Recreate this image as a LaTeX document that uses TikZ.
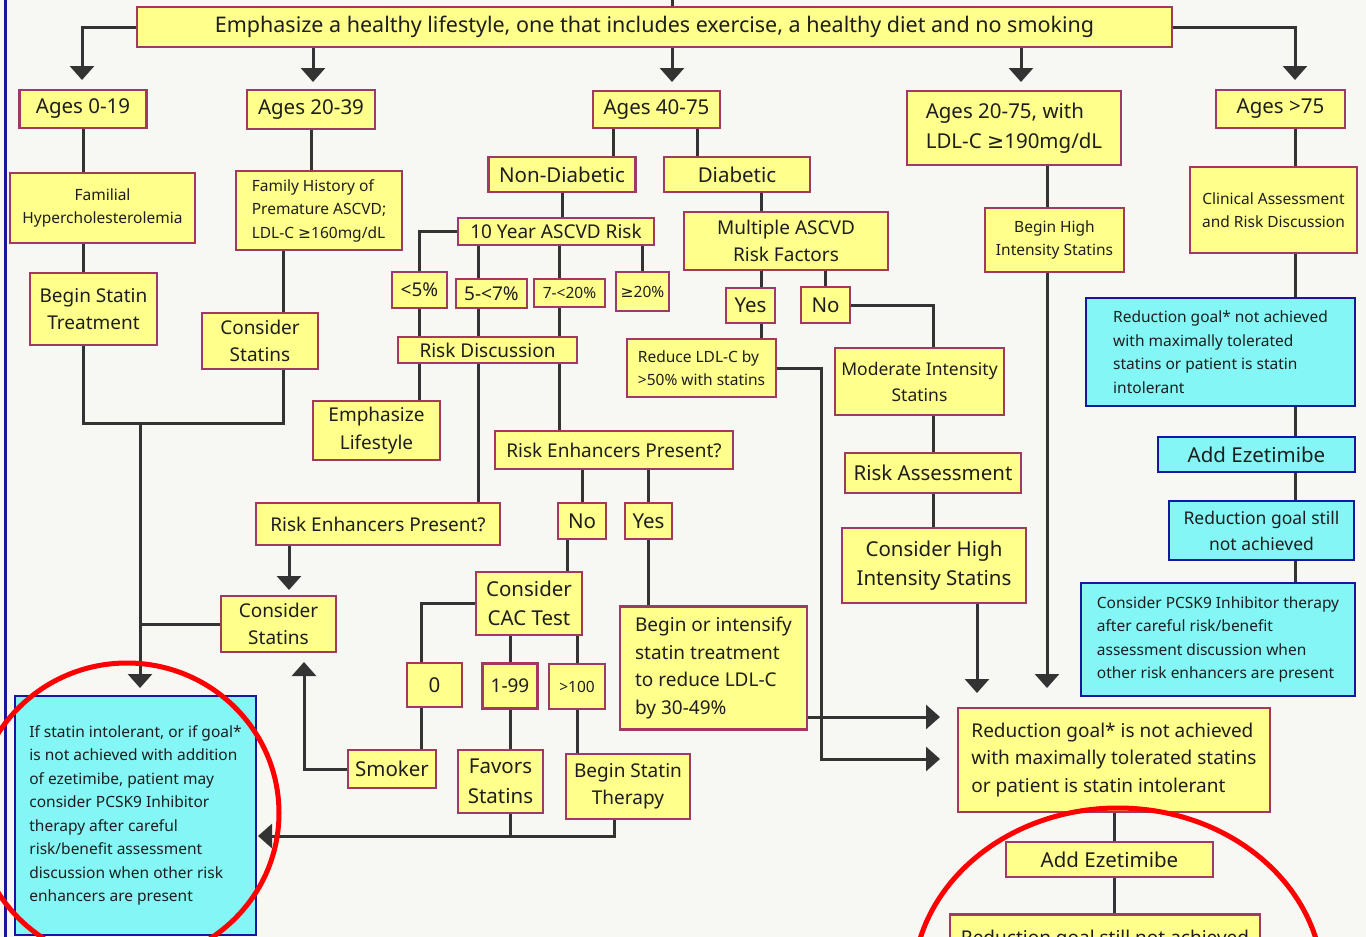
\documentclass[tikz,border=0pt]{standalone}
\usepackage{fontspec}
\setmainfont{Noto Sans}
\newfontfamily\symfont{DejaVu Sans}
\usepackage{tikz}
\usetikzlibrary{positioning, arrows.meta, calc}

\definecolor{yfill}{HTML}{FFFF8C}
\definecolor{yline}{HTML}{A03A62}
\definecolor{cfill}{HTML}{84F6F6}
\definecolor{cline}{HTML}{16169E}
\definecolor{wire}{HTML}{333333}
\definecolor{ink}{HTML}{1E1E1E}
\definecolor{paper}{HTML}{F7F7F4}

\newcommand{\gesign}{{\symfont ≥}}

\begin{document}
\begin{tikzpicture}[
            x=1pt, y=-1pt,
            step_box/.style={draw=yline, fill=yfill, line width=2.5pt, inner sep=3pt, align=center, text=ink},
            goal_box/.style={draw=cline, fill=cfill, line width=2.5pt, inner sep=3pt, align=center, text=ink},
            sz/.style 2 args={minimum width=#1pt, minimum height=#2pt},
            txt_s/.style={font=\fontsize{15.5}{23.5}\selectfont},
            txt_n/.style={font=\fontsize{17.5}{26}\selectfont},
            txt_m/.style={font=\fontsize{19}{27.5}\selectfont},
            txt_l/.style={font=\fontsize{20.5}{29.5}\selectfont},
            link/.style={draw=wire, line width=3pt},
            flow_arrow/.style={link, -{Triangle[width=24pt, length=14pt]}},
            ring/.style={draw=red, line width=5pt}
            ]

            \useasboundingbox (0,0) rectangle (1366,937);
            \clip (0,0) rectangle (1366,937);
            \fill[paper] (0,0) rectangle (1366,937);
            \draw[cline, line width=3pt] (5,0) -- (5,937);

            % Header
            \node[step_box, sz={1035}{40}, font=\fontsize{21.5}{29.5}\selectfont] (top) at (654.5,27) {Emphasize a healthy lifestyle, one that includes exercise, a healthy diet and no smoking};

            % Age groups
            \node[step_box, sz={127}{38}, txt_l] (a019) at (83,109) {Ages 0-19};
            \node[step_box, sz={128}{39}, txt_l] (a2039) at (311,109.5) {Ages 20-39};
            \node[step_box, sz={127}{37}, txt_l] (a4075) at (656.5,109.5) {Ages 40-75};
            \node[step_box, sz={214}{74}, txt_l, align=left] (a2075) at (1014,128) {Ages 20-75, with\\LDL-C \gesign190mg/dL};
            \node[step_box, sz={129}{38}, txt_l] (a75) at (1280.5,109) {Ages >75};

            % Ages 0-19 and 20-39
            \node[step_box, sz={185}{70}, txt_s] (fam) at (102.5,208) {Familial\\Hypercholesterolemia};
            \node[step_box, sz={127}{72}, txt_m] (bst) at (93.5,309) {Begin Statin\\Treatment};
            \node[step_box, sz={166}{79}, txt_s, align=left] (fh) at (319,210.5) {Family History of\\Premature ASCVD;\\LDL-C \gesign160mg/dL};
            \node[step_box, sz={116}{56}, txt_m] (cs1) at (260,341) {Consider\\Statins};

            % Ages 40-75, non-diabetic
            \node[step_box, sz={147}{35}, txt_l] (nd) at (562,174.5) {Non-Diabetic};
            \node[step_box, sz={196}{27}, txt_m, inner ysep=1pt] (tenyr) at (556,231.5) {10 Year ASCVD Risk};
            \node[step_box, sz={55}{36}, txt_m] (lt5) at (419.5,290) {<5\%};
            \node[step_box, sz={71}{29}, txt_m] (r57) at (491.5,293.5) {5-<7\%};
            \node[step_box, sz={71}{28}, txt_s] (r720) at (569.5,293) {7-<20\%};
            \node[step_box, sz={53}{39}, txt_s] (ge20) at (642.5,291.5) {\gesign20\%};
            \node[step_box, sz={179}{26}, txt_m, inner ysep=1pt] (rd) at (487.5,350) {Risk Discussion};
            \node[step_box, sz={127}{59}, txt_m] (el) at (376.5,430.5) {Emphasize\\Lifestyle};
            \node[step_box, sz={244}{42}, txt_m] (rep1) at (378,524) {Risk Enhancers Present?};
            \node[step_box, sz={115}{56}, txt_m] (cs2) at (278.5,624) {Consider\\Statins};
            \node[step_box, sz={238}{38}, txt_m] (rep2) at (614,450) {Risk Enhancers Present?};
            \node[step_box, sz={48}{36}, txt_l] (no1) at (582,521) {No};
            \node[step_box, sz={47}{36}, txt_l] (yes1) at (648.5,521) {Yes};
            \node[step_box, sz={106}{63}, txt_l] (cac) at (529,603.5) {Consider\\CAC Test};
            \node[step_box, sz={187}{123}, txt_m, align=left] (bis) at (713.5,668) {Begin or intensify\\statin treatment\\to reduce LDL-C\\by 30-49\%};
            \node[step_box, sz={55}{44}, txt_l] (z0) at (434.5,685) {0};
            \node[step_box, sz={55}{45}, txt_m] (z199) at (510,686) {1-99};
            \node[step_box, sz={56}{45}, txt_s] (z100) at (577,686.5) {>100};
            \node[step_box, sz={88}{38}, txt_l] (smk) at (392,769) {Smoker};
            \node[step_box, sz={85}{63}, txt_l] (fav) at (500.5,781.5) {Favors\\Statins};
            \node[step_box, sz={124}{65}, txt_m] (bstt) at (628,786.5) {Begin Statin\\Therapy};
            \node[goal_box, sz={241}{239}, txt_s, align=left] (b0) at (135.5,815.5) {If statin intolerant, or if goal*\\is not achieved with addition\\of ezetimibe, patient may\\consider PCSK9 Inhibitor\\therapy after careful\\risk/benefit assessment\\discussion when other risk\\enhancers are present};

            % Ages 40-75, diabetic
            \node[step_box, sz={146}{35}, txt_l] (dia) at (737,174.5) {Diabetic};
            \node[step_box, sz={204}{58}, txt_m] (mul) at (786,241) {Multiple ASCVD\\Risk Factors};
            \node[step_box, sz={49}{35}, txt_l] (yes2) at (750.5,305.5) {Yes};
            \node[step_box, sz={49}{36}, txt_l] (no2) at (825.5,305) {No};
            \node[step_box, sz={149}{58}, txt_s, align=left] (red50) at (701.5,368) {Reduce LDL-C by\\>50\% with statins};
            \node[step_box, sz={169}{67}, txt_n] (mod) at (919.5,381.5) {Moderate Intensity\\Statins};
            \node[step_box, sz={176}{40}, txt_l] (ra) at (933,473) {Risk Assessment};
            \node[step_box, sz={184}{75}, txt_l] (chi) at (934,565.5) {Consider High\\Intensity Statins};

            % Ages 20-75 with high LDL-C
            \node[step_box, sz={139}{64}, txt_s] (bhi) at (1054.5,240) {Begin High\\Intensity Statins};
            \node[step_box, sz={312}{104}, txt_m, align=left] (rg) at (1114,760) {Reduction goal* is not achieved\\with maximally tolerated statins\\or patient is statin intolerant};
            \node[step_box, sz={207}{35}, txt_l] (aez) at (1109.5,859.5) {Add Ezetimibe};
            \node[step_box, minimum width=310pt, txt_m, inner ysep=16pt, anchor=north] (rgs2) at (1105,913) {Reduction goal still not achieved};

            % Ages >75
            \node[step_box, sz={167}{86}, txt_s] (cla) at (1273.5,210) {Clinical Assessment\\and Risk Discussion};
            \node[goal_box, sz={269}{108}, txt_s, align=left] (b1) at (1220.5,352) {Reduction goal* not achieved\\with maximally tolerated\\statins or patient is statin\\intolerant};
            \node[goal_box, sz={197}{35}, txt_l] (b2) at (1256.5,454.5) {Add Ezetimibe};
            \node[goal_box, sz={185}{59}, txt_n] (b3) at (1261.5,530.5) {Reduction goal still\\not achieved};
            \node[goal_box, sz={274}{113}, txt_s, align=left] (b4) at (1218,639.5) {Consider PCSK9 Inhibitor therapy\\after careful risk/benefit\\assessment discussion when\\other risk enhancers are present};

            % Arrow tips and shared rails
            \coordinate (entry) at (672,-4);
            \coordinate (tip019) at (82,80);
            \coordinate (tip2039) at (313,82);
            \coordinate (tip4075) at (672,82);
            \coordinate (tip2075) at (1021,82);
            \coordinate (tip75) at (1295,80);
            \coordinate (j20) at (283,423);
            \coordinate (jl) at (140,423);
            \coordinate (tip_b0) at (140,688);
            \coordinate (tip_cs2) at (289,590);
            \coordinate (tip_smk) at (304,662);
            \coordinate (tip_side) at (258,836);
            \coordinate (tip_chi) at (977,693);
            \coordinate (tip_bhi) at (1047,688);
            \coordinate (tip_rgA) at (940,717);
            \coordinate (tip_rgB) at (940,759);
            \coordinate (nd_in) at (613,0);
            \coordinate (dia_in) at (697,0);
            \coordinate (r57_rail) at (478,0);
            \coordinate (r720_rail) at (559,0);
            \coordinate (cac_in) at (567,0);
            \coordinate (z0_rail) at (421,0);
            \coordinate (yes_rail) at (761,0);
            \coordinate (bstt_out) at (614,0);

            % Header edges
            \draw[link] (entry) -- (entry |- top.north);
            \draw[flow_arrow] (top.west) -| (tip019);
            \draw[flow_arrow] (top.south -| tip2039) -- (tip2039);
            \draw[flow_arrow] (top.south -| tip4075) -- (tip4075);
            \draw[flow_arrow] (top.south -| tip2075) -- (tip2075);
            \draw[flow_arrow] (top.east) -| (tip75);

            % Ages 0-39 edges
            \draw[link] (a019.south) -- (a019.south |- fam.north);
            \draw[link] (a019.south |- fam.south) -- (a019.south |- bst.north);
            \draw[link] (a019.south |- bst.south) |- (j20) -- (j20 |- cs1.south);
            \draw[link] (a2039.south) -- (a2039.south |- fh.north);
            \draw[link] (j20 |- fh.south) -- (j20 |- cs1.north);
            \draw[flow_arrow] (jl) -- (tip_b0);
            \draw[link] (cs2.west) -- (cs2.west -| jl);

            % Non-diabetic edges
            \draw[link] (a4075.south -| nd_in) -- (nd.north -| nd_in);
            \draw[link] (nd.south) -- (nd.south |- tenyr.north);
            \draw[link] (tenyr.west) -| (lt5.north);
            \draw[link] (tenyr.south -| r57_rail) -- (r57.north -| r57_rail);
            \draw[link] (tenyr.south -| r720_rail) -- (r720.north -| r720_rail);
            \draw[link] (tenyr.south -| ge20.north) -- (ge20.north);
            \draw[link] (lt5.south) -- (lt5.south |- rd.north);
            \draw[link] (r57.south -| r57_rail) -- (rd.north -| r57_rail);
            \draw[link] (r720.south -| r720_rail) -- (rd.north -| r720_rail);
            \draw[link] (rd.south -| lt5.south) -- (el.north -| lt5.south);
            \draw[link] (rd.south -| r57_rail) -- (rep1.north -| r57_rail);
            \draw[link] (rd.south -| r720_rail) -- (rep2.north -| r720_rail);
            \draw[flow_arrow] (rep1.south -| tip_cs2) -- (tip_cs2);
            \draw[link] (rep2.south -| no1.north) -- (no1.north);
            \draw[link] (rep2.south -| yes1.north) -- (yes1.north);
            \draw[link] (no1.south -| cac_in) -- (cac.north -| cac_in);
            \draw[link] (yes1.south) -- (yes1.south |- bis.north);
            \draw[link] (cac.west) -| (z0.north -| z0_rail);
            \draw[link] (cac.south -| z199.north) -- (z199.north);
            \draw[link] (cac.south -| z100.north) -- (z100.north);
            \draw[link] (z0.south -| z0_rail) -- (smk.north -| z0_rail);
            \draw[link] (z199.south) -- (z199.south |- fav.north);
            \draw[link] (z100.south) -- (z100.south |- bstt.north);
            \draw[flow_arrow] (smk.west) -| (tip_smk);
            \draw[flow_arrow] (z199.south |- fav.south) |- (tip_side);
            \draw[link] (bstt.south -| bstt_out) |- (tip_side -| z199.south);

            % Diabetic edges
            \draw[link] (a4075.south -| dia_in) -- (dia.north -| dia_in);
            \draw[link] (dia.south -| yes_rail) -- (mul.north -| yes_rail);
            \draw[link] (mul.south -| yes_rail) -- (yes2.north -| yes_rail);
            \draw[link] (mul.south -| no2.north) -- (no2.north);
            \draw[link] (yes2.south -| yes_rail) -- (red50.north -| yes_rail);
            \draw[flow_arrow] (red50.east) -- ++(44,0) |- (tip_rgB);
            \draw[link] (no2.east) -| (mod.north -| ra.north);
            \draw[link] (mod.south -| ra.north) -- (ra.north);
            \draw[link] (ra.south) -- (ra.south |- chi.north);
            \draw[flow_arrow] (chi.south -| tip_chi) -- (tip_chi);
            \draw[flow_arrow] (bis.east |- tip_rgA) -- (tip_rgA);

            % High LDL-C and follow-up edges
            \draw[link] (a2075.south -| tip_bhi) -- (bhi.north -| tip_bhi);
            \draw[flow_arrow] (bhi.south -| tip_bhi) -- (tip_bhi);
            \draw[link] (rg.south) -- (rg.south |- aez.north);
            \draw[link] (rg.south |- aez.south) -- (rg.south |- rgs2.north);

            % Ages >75 edges
            \foreach \u/\v in {a75/cla, cla/b1, b1/b2, b2/b3, b3/b4}
                \draw[link] (\u.south -| tip75) -- (\v.north -| tip75);

            % Highlight rings
            \draw[ring] (127,813) ellipse [x radius=152pt, y radius=150pt];
            \draw[ring] (1118,985) ellipse [x radius=205pt, y radius=177pt];

        \end{tikzpicture}
\end{document}
